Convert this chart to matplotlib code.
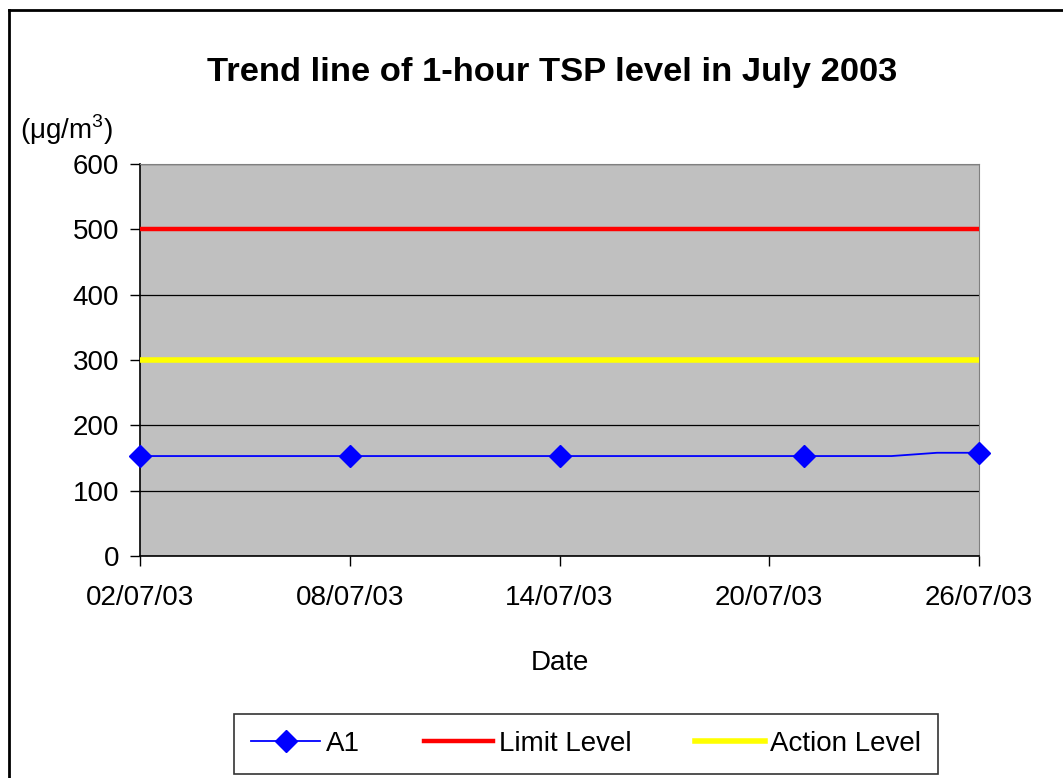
import matplotlib
matplotlib.use("Agg")
import matplotlib.pyplot as plt
from matplotlib.lines import Line2D

plt.rcParams['font.family'] = ['Liberation Sans', 'DejaVu Sans']
plt.rcParams['mathtext.fontset'] = 'custom'
plt.rcParams['mathtext.rm'] = 'Liberation Sans'

# Data (day of July 2003)
days = [2, 8, 14, 21, 23.5, 24.8, 26]
a1_tsp = [153, 153, 153, 153, 153, 158, 158]
marked = [0, 1, 2, 3, 6]          # points that carry a marker
limit_level = 500
action_level = 300
tick_days = [2, 8, 14, 20, 26]
tick_labels = ['02/07/03', '08/07/03', '14/07/03', '20/07/03', '26/07/03']
y_ticks = [0, 100, 200, 300, 400, 500, 600]

fig = plt.figure(figsize=(10.63, 7.78), dpi=100)
ax = fig.add_axes([140/1063, 1-556/778, (979-140)/1063, (556-164)/778])
ax.set_facecolor('#C0C0C0')

ax.plot([days[0], days[-1]], [limit_level, limit_level], color='#FF0000', lw=3.2, zorder=3)
ax.plot([days[0], days[-1]], [action_level, action_level], color='#FFFF00', lw=4, zorder=3)
ax.plot(days, a1_tsp, color='#0000FF', lw=1.3, marker='D', markersize=11,
        markevery=marked, clip_on=False, zorder=4)

ax.set_xlim(days[0], days[-1])
ax.set_ylim(0, 600)
ax.set_xticks(tick_days)
ax.set_xticklabels(tick_labels)
ax.set_yticks(y_ticks)
ax.yaxis.grid(True, color='black', lw=0.9)
ax.set_axisbelow(True)
ax.tick_params(axis='both', labelsize=20, direction='out', length=7, width=1, color='black')
ax.tick_params(axis='x', pad=14)
ax.tick_params(axis='y', pad=8)
for s in ['top', 'right']:
    ax.spines[s].set_color('#808080')
for s in ['left', 'bottom']:
    ax.spines[s].set_color('black')
    ax.spines[s].set_linewidth(1.2)

ax.set_xlabel('Date', fontsize=20, labelpad=28)
fig.text(20/1063, 1-130/778, '(μg/m$^3$)', fontsize=20, va='center', ha='left')
fig.text(552/1063, 1-72/778, 'Trend line of 1-hour TSP level in July 2003',
         fontsize=24.8, fontweight='bold', ha='center', va='center')

# outer chart border (left and top only visible)
fig.add_artist(Line2D([9/1063, 9/1063], [0, 1-10/778], color='black', lw=2, transform=fig.transFigure))
fig.add_artist(Line2D([9/1063, 1], [1-10/778, 1-10/778], color='black', lw=2, transform=fig.transFigure))

handles = [
    Line2D([], [], color='#0000FF', lw=1.3, marker='D', markersize=11),
    Line2D([], [], color='#FF0000', lw=3.2),
    Line2D([], [], color='#FFFF00', lw=4),
]
leg = fig.legend(handles, ['A1', 'Limit Level', 'Action Level'], ncol=3,
                 loc='center', bbox_to_anchor=(586/1063, 1-744/778),
                 fontsize=20, frameon=True, fancybox=False, edgecolor='black',
                 handlelength=2.5, handletextpad=0.2, columnspacing=2.3,
                 borderpad=0.6)
leg.get_frame().set_linewidth(1.2)

fig.savefig('out.png', dpi=100)
